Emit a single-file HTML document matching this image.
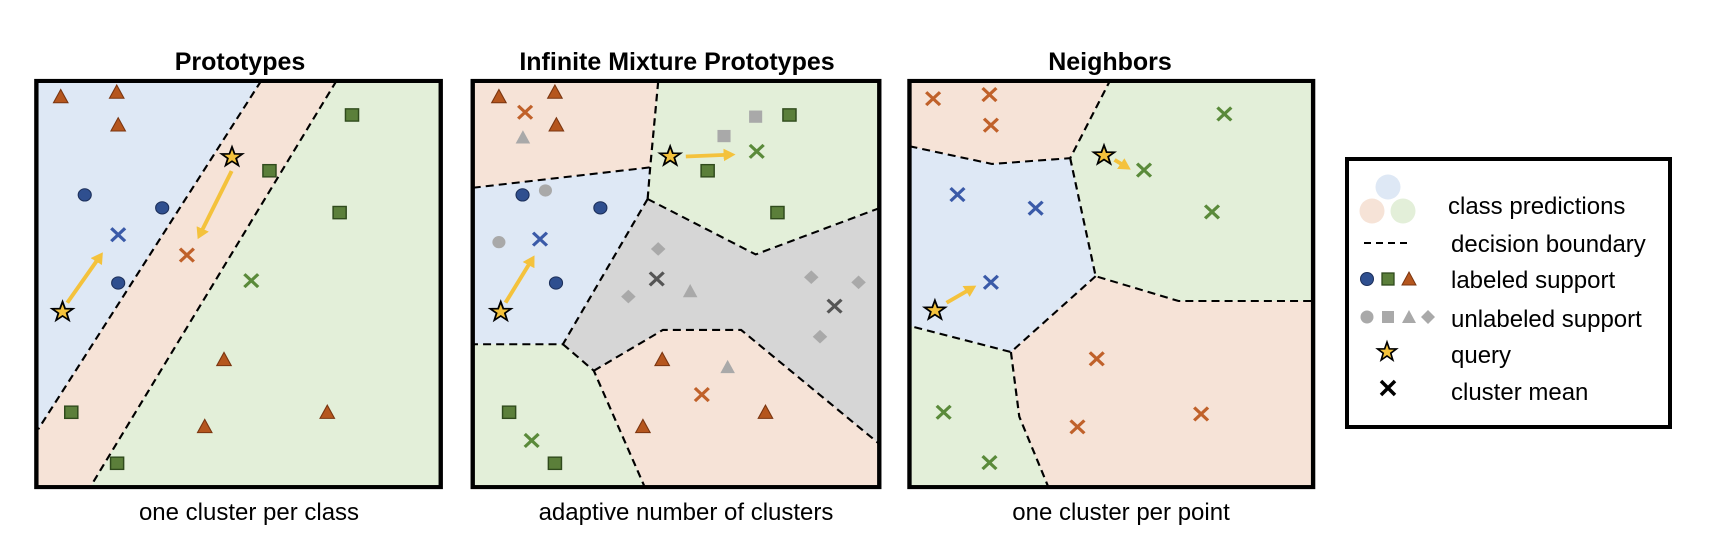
<!DOCTYPE html>
<html><head><meta charset="utf-8"><style>
html,body{margin:0;padding:0;background:#fff;}
svg{display:block;}
text{font-family:"Liberation Sans",Arial,sans-serif;}
</style></head><body>
<svg width="1710" height="534" viewBox="0 0 1710 534" xmlns="http://www.w3.org/2000/svg">
<defs>
<polygon id="tri" points="0,-22 20,17 -20,17"/>
<rect id="sq" x="-18" y="-18" width="36" height="36"/>
<circle id="ci" r="18"/>
<path id="cr" d="M-19,-19L19,19M19,-19L-19,19" fill="none"/>
<polygon id="st" points="0,-30 7.1,-9.7 28.5,-9.3 11.4,3.7 17.6,24.3 0,12 -17.6,24.3 -11.4,3.7 -28.5,-9.3 -7.1,-9.7"/>
<polygon id="di" points="0,-20 20,0 0,20 -20,0"/>
<marker id="ah" markerWidth="4" markerHeight="4" refX="1.2" refY="2" orient="auto" markerUnits="strokeWidth"><path d="M0,0.3L3,2L0,3.7z" fill="#f4c23c"/></marker>
</defs>

<!-- titles -->
<text x="240" y="70" font-size="25" font-weight="bold" text-anchor="middle">Prototypes</text>
<text x="677" y="70" font-size="25" font-weight="bold" text-anchor="middle">Infinite Mixture Prototypes</text>
<text x="1110" y="70" font-size="25" font-weight="bold" text-anchor="middle">Neighbors</text>
<text x="249" y="520" font-size="24" text-anchor="middle">one cluster per class</text>
<text x="686" y="520" font-size="24" text-anchor="middle">adaptive number of clusters</text>
<text x="1121" y="520" font-size="24" text-anchor="middle">one cluster per point</text>

<g transform="scale(0.36364,0.34014)">
<!-- PANEL 1 -->
<g>
<polygon points="100,238 718,238 105,1262 100,1262" fill="#dee8f5"/>
<polygon points="718,238 925,238 248,1432 100,1432 100,1262 105,1262" fill="#f6e3d7"/>
<polygon points="925,238 1212,238 1212,1432 248,1432" fill="#e3efd9"/>
<g stroke="#000" stroke-width="6" stroke-dasharray="22 14" fill="none">
<line x1="718" y1="238" x2="105" y2="1262"/>
<line x1="925" y1="238" x2="248" y2="1432"/>
</g>
<g fill="#b5561e" stroke="#7a3510" stroke-width="3">
<use href="#tri" x="167" y="285"/><use href="#tri" x="321" y="272"/><use href="#tri" x="325" y="368"/>
<use href="#tri" x="616" y="1058"/><use href="#tri" x="563" y="1255"/><use href="#tri" x="900" y="1213"/>
</g>
<g fill="#5b7f3a" stroke="#2f4a1c" stroke-width="4">
<use href="#sq" x="968" y="338"/><use href="#sq" x="741" y="502"/><use href="#sq" x="934" y="625"/>
<use href="#sq" x="196" y="1212"/><use href="#sq" x="322" y="1362"/>
</g>
<g fill="#2f4f8f" stroke="#1c2f5a" stroke-width="3">
<use href="#ci" x="233" y="573"/><use href="#ci" x="446" y="611"/><use href="#ci" x="325" y="832"/>
</g>
<g stroke-width="9">
<use href="#cr" x="325" y="690" stroke="#3a5aa8"/>
<use href="#cr" x="514" y="750" stroke="#c0612a"/>
<use href="#cr" x="691" y="825" stroke="#5a8a3a"/>
</g>
<g stroke="#f4c23c" stroke-width="11" marker-end="url(#ah)">
<line x1="637" y1="503" x2="552" y2="685"/>
<line x1="185" y1="890" x2="272" y2="758"/>
</g>
<g fill="#f4c23c" stroke="#000" stroke-width="5">
<use href="#st" x="638" y="462"/><use href="#st" x="172" y="917"/>
</g>
<rect x="100" y="238" width="1112" height="1194" fill="none" stroke="#000" stroke-width="12"/>
</g>

<g transform="translate(1568,0)">
<!-- PANEL 2 -->
<polygon points="-268,238 242,238 220,492 -268,552" fill="#f6e3d7"/>
<polygon points="242,238 850,238 850,612 510,748 213,585 220,492" fill="#e3efd9"/>
<polygon points="-268,552 220,492 213,585 -20,1012 -268,1012" fill="#dee8f5"/>
<polygon points="213,585 510,748 850,612 850,1305 470,970 255,970 65,1090 -20,1012" fill="#d6d6d6"/>
<polygon points="-268,1012 -20,1012 65,1090 205,1432 -268,1432" fill="#e3efd9"/>
<polygon points="65,1090 255,970 470,970 850,1305 850,1432 205,1432" fill="#f6e3d7"/>
<g stroke="#000" stroke-width="6" stroke-dasharray="22 14" fill="none">
<polyline points="242,240 220,492 213,585"/>
<polyline points="-268,552 220,492"/>
<polyline points="213,585 510,748 850,612"/>
<polyline points="213,585 -20,1012 -268,1012"/>
<polyline points="-20,1012 65,1090 205,1432"/>
<polyline points="65,1090 255,970 470,970 850,1305"/>
</g>
<g fill="#b5561e" stroke="#7a3510" stroke-width="3">
<use href="#tri" x="-196" y="285"/><use href="#tri" x="-42" y="272"/><use href="#tri" x="-38" y="368"/>
<use href="#tri" x="253" y="1058"/><use href="#tri" x="200" y="1255"/><use href="#tri" x="537" y="1213"/>
</g>
<g fill="#a9a9a9">
<use href="#tri" x="-130" y="405"/><use href="#tri" x="330" y="857"/><use href="#tri" x="433" y="1080"/>
<use href="#ci" x="-68" y="560"/><use href="#ci" x="-196" y="712"/>
<use href="#sq" x="510" y="343"/><use href="#sq" x="423" y="400"/>
<use href="#di" x="242" y="732"/><use href="#di" x="160" y="872"/><use href="#di" x="663" y="815"/><use href="#di" x="793" y="830"/><use href="#di" x="687" y="990"/>
</g>
<g fill="#2f4f8f" stroke="#1c2f5a" stroke-width="3">
<use href="#ci" x="-131" y="573"/><use href="#ci" x="-39" y="832"/><use href="#ci" x="83" y="611"/>
</g>
<g fill="#5b7f3a" stroke="#2f4a1c" stroke-width="4">
<use href="#sq" x="603" y="338"/><use href="#sq" x="378" y="502"/><use href="#sq" x="570" y="625"/>
<use href="#sq" x="-168" y="1212"/><use href="#sq" x="-42" y="1362"/>
</g>
<g stroke-width="9">
<use href="#cr" x="-124" y="330" stroke="#c0612a"/>
<use href="#cr" x="362" y="1160" stroke="#c0612a"/>
<use href="#cr" x="-83" y="703" stroke="#3a5aa8"/>
<use href="#cr" x="513" y="445" stroke="#5a8a3a"/>
<use href="#cr" x="-106" y="1295" stroke="#5a8a3a"/>
<use href="#cr" x="238" y="820" stroke="#555"/>
<use href="#cr" x="727" y="900" stroke="#555"/>
</g>
<g stroke="#f4c23c" stroke-width="11" marker-end="url(#ah)">
<line x1="-178" y1="890" x2="-108" y2="768"/>
<line x1="318" y1="460" x2="435" y2="455"/>
</g>
<g fill="#f4c23c" stroke="#000" stroke-width="5">
<use href="#st" x="-191" y="917"/><use href="#st" x="275" y="460"/>
</g>
<rect x="-268" y="238" width="1118" height="1194" fill="none" stroke="#000" stroke-width="12"/>

<!-- PANEL 3 -->
<polygon points="933,238 1483,238 1375,465 1160,482 933,430" fill="#f6e3d7"/>
<polygon points="1483,238 2043,238 2043,885 1673,885 1445,812 1375,465" fill="#e3efd9"/>
<polygon points="933,430 1160,482 1375,465 1445,812 1212,1035 933,958" fill="#dee8f5"/>
<polygon points="1445,812 1673,885 2043,885 2043,1432 1315,1432 1235,1225 1212,1035" fill="#f6e3d7"/>
<polygon points="933,958 1212,1035 1235,1225 1315,1432 933,1432" fill="#e3efd9"/>
<g stroke="#000" stroke-width="6" stroke-dasharray="22 14" fill="none">
<polyline points="933,430 1160,482 1375,465 1483,240"/>
<polyline points="1375,465 1445,812 1673,885 2043,885"/>
<polyline points="1445,812 1212,1035 940,960"/>
<polyline points="1212,1035 1235,1225 1315,1432"/>
</g>
<g stroke-width="9">
<use href="#cr" x="998" y="290" stroke="#c0612a"/>
<use href="#cr" x="1153" y="278" stroke="#c0612a"/>
<use href="#cr" x="1157" y="368" stroke="#c0612a"/>
<use href="#cr" x="1448" y="1055" stroke="#c0612a"/>
<use href="#cr" x="1395" y="1255" stroke="#c0612a"/>
<use href="#cr" x="1735" y="1217" stroke="#c0612a"/>
<use href="#cr" x="1065" y="572" stroke="#3a5aa8"/>
<use href="#cr" x="1280" y="612" stroke="#3a5aa8"/>
<use href="#cr" x="1157" y="830" stroke="#3a5aa8"/>
<use href="#cr" x="1027" y="1212" stroke="#5a8a3a"/>
<use href="#cr" x="1153" y="1360" stroke="#5a8a3a"/>
<use href="#cr" x="1799" y="335" stroke="#5a8a3a"/>
<use href="#cr" x="1765" y="623" stroke="#5a8a3a"/>
<use href="#cr" x="1578" y="500" stroke="#5a8a3a"/>
</g>
<g stroke="#f4c23c" stroke-width="11" marker-end="url(#ah)">
<line x1="1497" y1="470" x2="1525" y2="488"/>
<line x1="1035" y1="890" x2="1100" y2="850"/>
</g>
<g fill="#f4c23c" stroke="#000" stroke-width="5">
<use href="#st" x="1468" y="457"/><use href="#st" x="1003" y="913"/>
</g>
<rect x="933" y="238" width="1110" height="1194" fill="none" stroke="#000" stroke-width="12"/>
</g>
</g>

<!-- LEGEND -->
<rect x="1347" y="159" width="323" height="268" fill="#fff" stroke="#000" stroke-width="4"/>
<circle cx="1388" cy="187" r="12.5" fill="#dee8f5"/>
<circle cx="1372" cy="211" r="12.5" fill="#f6e3d7"/>
<circle cx="1403" cy="211" r="12.5" fill="#e3efd9"/>
<line x1="1364" y1="243" x2="1411" y2="243" stroke="#000" stroke-width="2" stroke-dasharray="7 5"/>
<circle cx="1367" cy="279" r="6.5" fill="#2f4f8f" stroke="#1c2f5a" stroke-width="1"/>
<rect x="1382" y="273" width="12" height="12" fill="#5b7f3a" stroke="#2f4a1c" stroke-width="1.3"/>
<polygon points="1409,272 1416,285 1402,285" fill="#b5561e" stroke="#7a3510" stroke-width="1"/>
<circle cx="1367" cy="317" r="6.5" fill="#a9a9a9"/>
<rect x="1382" y="311" width="12" height="12" fill="#a9a9a9"/>
<polygon points="1409,310 1416,323 1402,323" fill="#a9a9a9"/>
<polygon points="1428,310 1435,317 1428,324 1421,317" fill="#a9a9a9"/>
<polygon transform="translate(1387,352) scale(0.33)" points="0,-30 7.1,-9.7 28.5,-9.3 11.4,3.7 17.6,24.3 0,12 -17.6,24.3 -11.4,3.7 -28.5,-9.3 -7.1,-9.7" fill="#f4c23c" stroke="#000" stroke-width="5"/>
<path d="M1381,381L1395,395M1395,381L1381,395" stroke="#000" stroke-width="3.5"/>
<g font-size="24">
<text x="1448" y="214">class predictions</text>
<text x="1451" y="252">decision boundary</text>
<text x="1451" y="288">labeled support</text>
<text x="1451" y="327">unlabeled support</text>
<text x="1451" y="363">query</text>
<text x="1451" y="400">cluster mean</text>
</g>
</svg>
</body></html>
